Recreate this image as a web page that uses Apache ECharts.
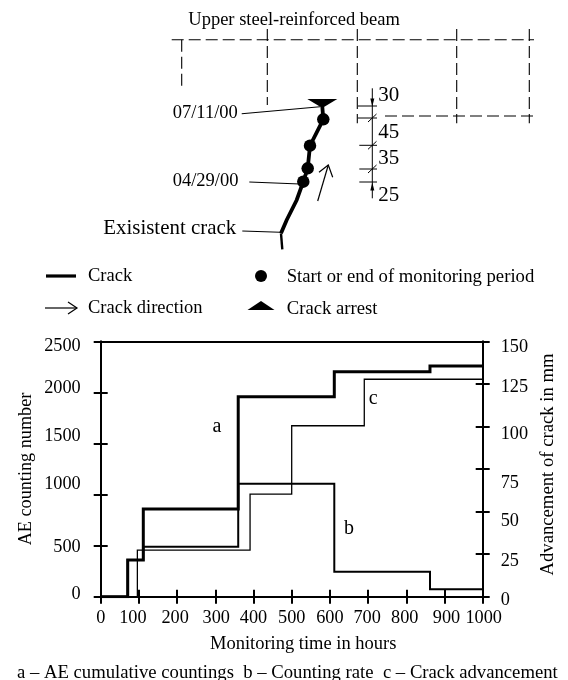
<!DOCTYPE html>
<html><head><meta charset="utf-8">
<style>html,body{margin:0;padding:0;background:#fff}#c{width:568px;height:680px}</style>
<script src="https://cdn.jsdelivr.net/npm/echarts@6/dist/echarts.min.js"></script>
</head><body><div id="c"></div>
<script>
// ---- chart data (hours, AE counts, mm) ----
const seriesA = [[0,0],[70.7,0],[70.7,359],[111.5,359],[111.5,858],[360,858],[360,1958],[611.5,1958],[611.5,2202],[862,2202],[862,2258],[1000,2258]];
const seriesB = [[0,0],[70.7,0],[70.7,359],[111.5,359],[111.5,489],[360,489],[360,1106],[611.5,1106],[611.5,245],[862,245],[862,72],[1000,72]];
const seriesC = [[0,0],[96,0],[96,27.4],[391,27.4],[391,60.3],[500,60.3],[500,100.4],[690,100.4],[690,127.7],[1000,127.7]];
const leftTicks = [0,500,1000,1500,2000,2500];
const rightTicks = [0,25,50,75,100,125,150];
const xTicks = [0,100,200,300,400,500,600,700,800,900,1000];
// ---- schematic data (drawing units of the sketch) ----
const beamTop = [[171.7,39.7],[534,39.7]];
const beamLow = [[385,116],[534,116]];
const beamVerticals = [[[181.7,39.7],[181.7,90]],[[267.3,29],[267.3,105]],[[357.3,29],[357.3,123.3]],[[456.7,29],[456.7,123.3]],[[529.3,29],[529.3,123.3]]];
const crackLower = [[282.3,249.3],[281,233.3]];
const crackUpper = [[281,233.3],[286.7,220],[296.7,200],[303.3,181.7],[307.7,168.3],[310,145.7],[323.3,119.3],[322.3,106.7]];
const periodPoints = [[303.3,181.7],[307.7,168.3],[310,145.7],[323.3,119.3]];
const leaders = [[[241.7,113.7],[320,106.7]],[[249.3,182],[300,184]],[[242.3,231],[280,232.3]]];
const crackArrow = [[[317.7,201],[328.3,165]],[[319,172.3],[328.3,165],[332.7,177.3]]];
const dimLine = [[372.3,88.3],[372.3,198.3]];
const dimTicks = [[[358,106],[377,106]],[[358,118],[377,118]],[[359.3,145.3],[377,145.3]],[[359.3,169],[377,169]],[[359.3,182],[377,182]]];
const dimSlashes = [[[368,122],[376.5,114]],[[368,149.3],[376.5,141.3]],[[368,173],[376.5,165]]];
const legendCrack = [[46,276],[76,276]];
const legendArrow = [[[45,308],[77,308]],[[68,302],[77,308],[68,314]]];
const legendDot = [[261,276]];
const legendArrest = [[261,305.5]];
const arrestPoint = [[322.3,103.5]];
const dimArrowDown = [[372.3,102.5]];
const dimArrowUp = [[372.3,186.5]];

const FONT = '"Liberation Serif","Times New Roman",serif';
const INK = '#000';
const AXIS_FONT = 18.3;
const shiftY = {l2500:5.1,l2000:-4,l1500:-7.1,l1000:-10.1,l500:1.8,l0:-2.3,
                r150:6.1,r125:3,r100:7.7,r75:14.4,r50:10.1,r25:6.7,r0:3};
const shiftX = {x100:-6,x200:-2,x300:1,x700:-1,x800:-1.5,x900:2,x1000:1};
function richY(prefix, ticks, align){
  const o={};
  ticks.forEach(t=>{const s=shiftY[prefix+t]||0;
    o[prefix+t]={fontFamily:FONT,fontSize:AXIS_FONT,color:INK,align:align,
      padding:[s>0?2*s:0,0,s<0?-2*s:0,0]};});
  return o;
}
function richX(ticks){
  const o={};
  ticks.forEach(t=>{const s=shiftX['x'+t]||0;
    o['x'+t]={fontFamily:FONT,fontSize:AXIS_FONT,color:INK,
      padding:[0,s<0?-2*s:0,0,s>0?2*s:0]};});
  return o;
}
const G={left:100.7,top:341.3,width:382,height:255.4};
const lineStyle={color:INK,width:2};
const sk=(data,width,extra)=>({type:'line',xAxisIndex:3,yAxisIndex:4,data,showSymbol:false,silent:true,
  lineStyle:Object.assign({color:INK,width:width,cap:'butt',join:'miter'},extra||{}),z:3});
const dots=(data,symbol,size,rotate)=>({type:'scatter',xAxisIndex:3,yAxisIndex:4,data,symbol,symbolSize:size,symbolRotate:rotate||0,
  itemStyle:{color:INK,opacity:1},silent:true,z:4});
const dash={type:[12,5]};
const text=(t,x,y,size,extra)=>Object.assign({type:'text',x,y,silent:true,
  style:{text:t,fontFamily:FONT,fontSize:size,fill:INK,verticalAlign:'middle'}},extra||{});

const chart=echarts.init(document.getElementById('c'),null,{renderer:'canvas'});
chart.setOption({
  animation:false,backgroundColor:'#fff',
  grid:[G,{left:0,top:0,width:568,height:680}],
  xAxis:[
    {gridIndex:0,type:'value',min:0,max:1000,interval:100,position:'bottom',splitLine:{show:false},
     name:'Monitoring time in hours',nameLocation:'middle',nameGap:38,
     nameTextStyle:{fontFamily:FONT,fontSize:18.5,color:INK,padding:[0,0,0,23]},
     axisLine:{onZero:false,lineStyle},axisTick:{length:7,lineStyle},
     axisLabel:{margin:12.5,formatter:v=>`{x${v}|${v}}`,rich:richX(xTicks),hideOverlap:false}},
    {gridIndex:0,type:'value',min:0,max:1000,interval:100,position:'bottom',splitLine:{show:false},
     axisLine:{show:false,onZero:false},axisTick:{inside:true,length:7,lineStyle},axisLabel:{show:false}},
    {gridIndex:0,type:'value',min:0,max:1000,position:'top',splitLine:{show:false},
     axisLine:{onZero:false,lineStyle},axisTick:{show:false},axisLabel:{show:false}},
    {gridIndex:1,type:'value',min:0,max:568,show:false}
  ],
  yAxis:[
    {gridIndex:0,type:'value',min:0,max:2500,interval:500,position:'left',splitLine:{show:false},
     name:'AE counting number',nameLocation:'middle',nameGap:65,nameMoveOverlap:false,
     nameTextStyle:{fontFamily:FONT,fontSize:18.2,color:INK},
     axisLine:{show:true,onZero:false,lineStyle},axisTick:{show:true,length:7,lineStyle},
     axisLabel:{margin:20,formatter:v=>`{l${v}|${v}}`,rich:richY('l',leftTicks,'right'),hideOverlap:false}},
    {gridIndex:0,type:'value',min:0,max:150,interval:25,position:'right',splitLine:{show:false},
     name:'Advancement of crack in mm',nameLocation:'middle',nameGap:56,nameMoveOverlap:false,
     nameTextStyle:{fontFamily:FONT,fontSize:18.7,color:INK,padding:[0,0,0,9]},
     axisLine:{show:true,onZero:false,lineStyle},axisTick:{show:true,length:7,lineStyle},
     axisLabel:{margin:18,formatter:v=>`{r${v}|${v}}`,rich:richY('r',rightTicks,'left'),hideOverlap:false}},
    {gridIndex:0,type:'value',min:0,max:2500,interval:500,position:'left',splitLine:{show:false},
     axisLine:{show:false,onZero:false},axisTick:{show:true,inside:true,length:7,lineStyle},axisLabel:{show:false}},
    {gridIndex:0,type:'value',min:0,max:150,interval:25,position:'right',splitLine:{show:false},
     axisLine:{show:false,onZero:false},axisTick:{show:true,inside:true,length:7,lineStyle},axisLabel:{show:false}},
    {gridIndex:1,type:'value',min:0,max:680,inverse:true,show:false}
  ],
  series:[
    {name:'c',type:'line',xAxisIndex:0,yAxisIndex:1,data:seriesC,showSymbol:false,lineStyle:{color:INK,width:1.3,join:'miter'},z:2},
    {name:'b',type:'line',xAxisIndex:0,yAxisIndex:0,data:seriesB,showSymbol:false,lineStyle:{color:INK,width:2,join:'miter'},z:2},
    {name:'a',type:'line',xAxisIndex:0,yAxisIndex:0,data:seriesA,showSymbol:false,lineStyle:{color:INK,width:3,join:'miter'},z:3},
    sk(beamTop,1.1,dash),sk(beamLow,1.1,dash),
    ...beamVerticals.map(d=>sk(d,1.1,dash)),
    sk(crackLower,2.4),sk(crackUpper,3.8),
    dots(periodPoints,'circle',12.5),
    dots(arrestPoint,'triangle',[30,9],180),
    ...leaders.map(d=>sk(d,1.1)),
    ...crackArrow.map(d=>sk(d,1.2)),
    sk(dimLine,1),
    ...dimTicks.map(d=>sk(d,1)),
    ...dimSlashes.map(d=>sk(d,1)),
    dots(dimArrowDown,'triangle',[4,8],180),
    dots(dimArrowUp,'triangle',[4,8]),
    sk(legendCrack,3.2),
    ...legendArrow.map(d=>sk(d,1.2)),
    dots(legendDot,'circle',12),
    dots(legendArrest,'triangle',[27,9])
  ],
  graphic:[
    text('Upper steel-reinforced beam',188.3,20.3,18.5),
    text('07/11/00',172.7,113,18.5),
    text('04/29/00',172.7,181.5,18.5),
    text('Exisistent crack',103.3,229,20.9),
    text('30',378.3,95,21),text('45',378.3,132.3,21),text('35',378.3,158,21),text('25',378.3,195,21),
    text('Crack',88,276.5,18.5),text('Crack direction',88,308.5,18.5),
    text('Start or end of monitoring period',286.7,277.5,18.7),text('Crack arrest',286.7,309.5,18.7),
    text('a',212.5,426.7,20),text('b',344,529,20),text('c',368.7,399,20),
    text('a \u2013 AE cumulative countings  b \u2013 Counting rate  c \u2013 Crack advancement',17,673.3,18.7)
  ]
});
</script></body></html>
